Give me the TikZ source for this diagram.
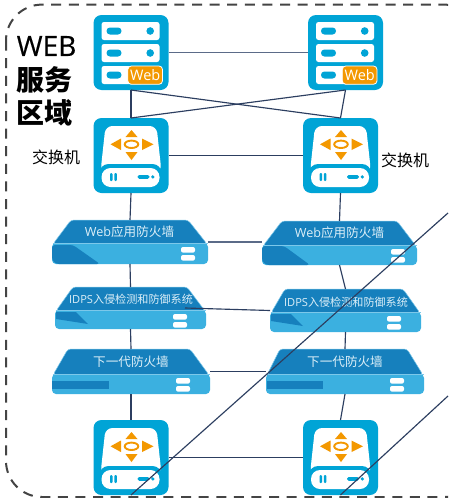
\documentclass[tikz,border=0pt]{standalone}
\usepackage{fontspec}
\setmainfont{Open Sans}
\newfontfamily\cjk{Noto Sans CJK SC}
\newfontfamily\heavylat[FakeBold=0.35]{Open Sans}
\definecolor{icoblue}{HTML}{00A4D6}
\definecolor{icoorange}{HTML}{F39800}
\definecolor{fwdark}{HTML}{1680BD}
\definecolor{fwlight}{HTML}{3BB0E0}
\definecolor{fwedge}{HTML}{7CC8EA}
\definecolor{fwtext}{HTML}{DCEFF8}
\definecolor{wire}{HTML}{2C3E60}
\definecolor{wiregrey}{HTML}{5B6B88}
\definecolor{zoneline}{HTML}{444444}
\tikzset{
  iconbox/.style={fill=icoblue,draw=none,rounded corners=8pt,minimum width=75pt,minimum height=75pt,inner sep=0pt,outer sep=0pt},
  fwbox/.style={draw=none,inner sep=0pt,outer sep=0pt},
  wireline/.style={draw=wire,line width=1.15pt},
  greyline/.style={draw=wiregrey,line width=1.2pt},
  fwlabel/.style={text=fwtext,inner sep=0pt},
  sidelabel/.style={text=black,inner sep=0pt,font=\cjk\fontsize{16}{16}\selectfont},
  titlelabel/.style={text=black,inner sep=0pt,anchor=west},
  whitebar/.style={fill=white,rounded corners=2.5pt},
  bluepart/.style={fill=icoblue},
  orangepart/.style={fill=icoorange},
}
% #1 node name, #2 centre x, #3 centre y
\newcommand{\servericon}[3]{%
  \node[iconbox] (#1) at (#2,#3) {};
  \begin{scope}[shift={(#1.north west)}]
    \fill[whitebar] (8,7) rectangle (66,25);
    \fill[whitebar] (8,29) rectangle (66,47);
    \fill[whitebar] (8,51) rectangle (50,69);
    \foreach \yy in {16,38,60}{\fill[bluepart,rounded corners=3.4pt] (13,\yy-3.5) rectangle (28,\yy+3.5);}
    \foreach \yy in {16,38}{\fill[bluepart] (56.7,\yy) circle (3.8);}
    \fill[orangepart,draw=white,line width=.8pt,rounded corners=3.5pt] (34.3,51) rectangle (69,69.3);
    \node[inner sep=0pt,text=white,font=\fontsize{14.5}{14.5}\selectfont] (#1badge) at (51.7,60) {Web};
  \end{scope}}
\newcommand{\switchicon}[3]{%
  \node[iconbox] (#1) at (#2,#3) {};
  \begin{scope}[shift={(#1.north west)}]
    \fill[white,rounded corners=7pt] (12,8) -- (63,8) -- (68,54) -- (7,54) -- cycle;
    \fill[bluepart,rounded corners=9pt] (6,46) rectangle (68,71.5);
    \fill[white,rounded corners=9pt] (8,50) rectangle (66,69);
    \fill[orangepart] (38,12) -- (44,19) -- (32,19) -- cycle;
    \fill[orangepart] (38,42) -- (44,34) -- (32,34) -- cycle;
    \fill[orangepart] (17,26.3) -- (27.5,20.5) -- (27.5,32.1) -- cycle;
    \fill[orangepart] (60,26.3) -- (48.5,20.5) -- (48.5,32.1) -- cycle;
    \draw[icoorange,line width=1.9pt] (38,26.3) ellipse (6.8 and 3.7);
    \fill[bluepart,rounded corners=1pt] (16.5,55) rectangle (19,63);
    \fill[bluepart,rounded corners=1pt] (20.9,55) rectangle (23.4,63);
    \fill[bluepart,rounded corners=1.7pt] (44,57) rectangle (56,60.8);
    \fill[bluepart] (59.3,58.9) circle (1.8);
  \end{scope}}
% #1 name, #2 left, #3 right, #4 top, #5 mid, #6 bottom, #7 topleft, #8 topright, #9 bar-right offset
\newcommand{\fwicon}[9]{%
  \node[fwbox,minimum width=#3pt-#2pt,minimum height=#6pt-#4pt] (#1) at ({(#2+#3)/2},{(#4+#6)/2}) {};
  \fill[fwdark,draw=fwedge,line width=.5pt,rounded corners=3pt] (#2+1,#5+1) -- (#7,#4) -- (#8,#4) -- (#3-1,#5+1) -- cycle;
  \fill[fwlight,rounded corners=4pt] (#2,#5) rectangle (#3,#6);
  \draw[fwedge,line width=.8pt] (#2+.5,#5) -- (#3-.5,#5);
  \fill[whitebar,rounded corners=2pt] (#3-#9,#5+4) rectangle (#3-#9+14,#5+9.6);
  \fill[whitebar,rounded corners=2pt] (#3-#9,#5+12) rectangle (#3-#9+14,#5+17.6);
}
\begin{document}
\begin{tikzpicture}[x=1pt,y=-1pt]
\useasboundingbox (0,0) rectangle (448,498);
\fill[white] (0,0) rectangle (448,498);
% zone outline, running off the right edge
\begin{scope}
\clip (0,0) rectangle (448,498);
\draw[zoneline,line width=2pt,dash pattern=on 10pt off 7.6pt,rounded corners=36pt] (6,4.6) rectangle (480,497);
\end{scope}

\servericon{s1}{131}{52.5}
\servericon{s2}{345.5}{52.5}
\switchicon{sw1}{131}{155.5}
\switchicon{sw2}{340.5}{155.5}
\switchicon{sw3}{131}{457.5}
\switchicon{sw4}{340.5}{457.5}

\fwicon{f1}{52}{208}{220}{243}{264}{71}{188}{27}
\fill[fwdark,rounded corners=3pt] (52,245) -- (73,245) -- (100,264) -- (56,264) -- (52,260) -- cycle;
\fwicon{f2}{55}{206}{287}{310}{329}{73}{187}{33}
\fill[fwdark] (56,312) -- (76,312) -- (88,324) -- (56,319) -- cycle;
\fwicon{f3}{52}{210}{349}{374}{394}{68}{190}{34}
\fill[fwdark] (52,380.7) rectangle (109,389);
\fwicon{f4}{262}{417}{221}{245}{265}{282}{397}{26}
\fill[fwdark,rounded corners=3pt] (262,246) -- (284,246) -- (310,265) -- (266,265) -- (262,261) -- cycle;
\fwicon{f5}{270}{421}{289}{312}{332}{285}{403}{34}
\fill[fwdark] (271,314) -- (291,314) -- (303,326) -- (271,321) -- cycle;
\fwicon{f6}{266}{424}{349}{374}{394}{280}{407}{34}
\fill[fwdark] (267,380.7) rectangle (323,389);

\node[fwlabel,font=\fontsize{12.6}{12.6}\selectfont] (t1) at (129.5,232) {Web{\cjk 应用防火墙}};
\node[fwlabel,font=\fontsize{11.1}{11.1}\selectfont] (t2) at (131,299.5) {IDPS{\cjk 入侵检测和防御系统}};
\node[fwlabel,font=\cjk\fontsize{12.6}{12.6}\selectfont] (t3) at (131,362) {下一代防火墙};
\node[fwlabel,font=\fontsize{12.6}{12.6}\selectfont] (t4) at (339.5,233) {Web{\cjk 应用防火墙}};
\node[fwlabel,font=\fontsize{11.1}{11.1}\selectfont] (t5) at (346,302) {IDPS{\cjk 入侵检测和防御系统}};
\node[fwlabel,font=\cjk\fontsize{12.6}{12.6}\selectfont] (t6) at (345,362) {下一代防火墙};

\node[titlelabel,font=\heavylat\fontsize{28}{28}\selectfont] (title1) at (16.5,46) {WEB};
\node[titlelabel,font=\cjk\bfseries\fontsize{28}{28}\selectfont] (title2) at (16.5,79.5) {服务};
\node[titlelabel,font=\cjk\bfseries\fontsize{28}{28}\selectfont] (title3) at (16.5,112.5) {区域};
\node[sidelabel] (lab1) at (56,157) {交换机};
\node[sidelabel] (lab2) at (405,160) {交换机};

% connectors
\draw[greyline] (s1.east) -- (s2.west);
\draw[wireline] (s1.south) -- (sw1.north);
\draw[wireline] (s2.south) -- (sw2.north);
\draw[wireline] (s1.south) -- (sw2.north);
\draw[wireline] (s2.south) -- (sw1.north);
\draw[wireline] (sw1.east) -- (sw2.west);
\draw[wireline] (sw1.south) -- (f1.north);
\draw[wireline] (sw2.south) -- (f4.north);
\draw[wireline] (f1.south) -- (f2.north);
\draw[wireline] (f4.south) -- (f5.north);
\draw[wireline] (f2.south) -- (f3.north);
\draw[wireline] (f5.south) -- (f6.north);
\draw[wireline] (f3.south) -- (sw3.north);
\draw[wireline] (f6.south) -- (sw4.north);
\draw[greyline] (f1.east) -- (f1.east -| f4.west);
\draw[wireline] ([xshift=54.5pt]f2.center) -- (f5.west);
\draw[wireline] (f3.east) -- (f6.west);
\draw[wireline] (sw3.east) -- (sw4.west);
% long diagonals from the lower switches, leaving the picture on the right
\coordinate (exit1) at (448,213);
\coordinate (exit2) at (448,396);
\draw[wireline] (sw3.south) -- (exit1);
\draw[wireline] (sw4.south) -- (exit2);
\end{tikzpicture}
\end{document}
